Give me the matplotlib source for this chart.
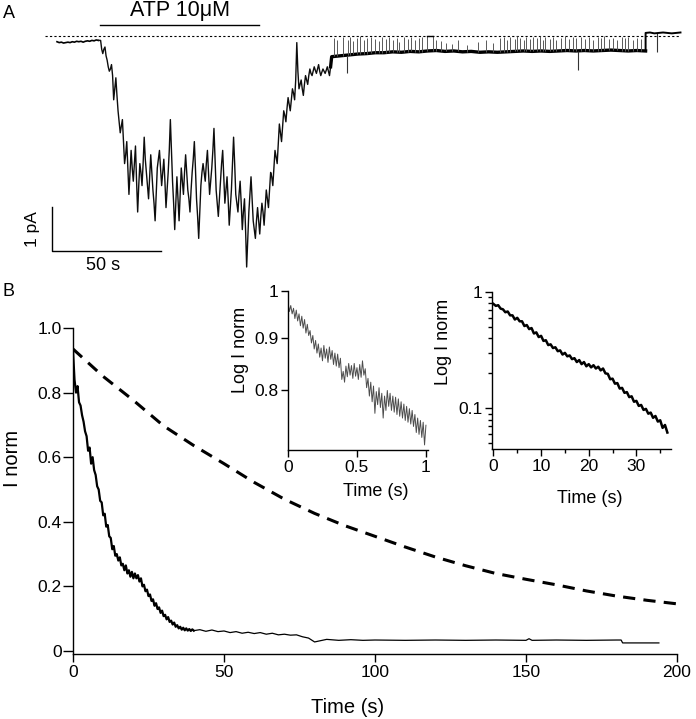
import matplotlib
matplotlib.use('Agg')
import matplotlib.pyplot as plt
from matplotlib.ticker import NullLocator, NullFormatter, LogLocator
import numpy as np

plt.rcParams['font.family'] = ['Liberation Sans', 'DejaVu Sans']

# ---------------- panel A : current trace (pA vs s) ----------------
pre_t = np.arange(0, 20)
pre_i = [-0.13, -0.15, -0.14, -0.16, -0.15, -0.14, -0.15, -0.13, -0.14, -0.12,
         -0.13, -0.12, -0.14, -0.12, -0.11, -0.12, -0.10, -0.11, -0.09, -0.10]

# samples on whole seconds (20 .. 125 s)
atp_t = np.arange(20, 126)
atp_i = [-0.10, -0.40, -0.25, -0.55, -0.80, -0.65, -1.45, -0.95, -1.70, -2.20,
         -1.90, -2.90, -2.40, -3.60, -2.60, -3.30, -2.50, -4.00, -2.90, -3.40,
         -2.30, -3.10, -3.70, -2.70, -3.50, -4.20, -3.00, -2.60, -3.40, -2.80,
         -3.90, -3.10, -1.90, -3.30, -4.40, -3.20, -4.20, -3.00, -3.60, -2.70,
         -3.50, -4.00, -3.10, -2.40, -3.70, -4.60, -3.40, -2.90, -3.30, -2.60,
         -3.60, -3.00, -2.10, -3.50, -4.10, -3.30, -2.60, -3.80, -3.20, -4.30,
         -3.50, -2.30, -3.60, -4.00, -3.30, -4.40, -3.70, -5.25, -4.00, -3.20,
         -4.20, -4.60, -3.90, -4.50, -3.80, -4.30, -3.50, -3.90, -3.10, -3.40,
         -2.60, -2.90, -2.00, -2.40, -1.70, -1.95, -1.40, -1.70, -1.20, -1.45,
         -0.15, -1.20, -1.00, -1.35, -0.90, -1.10, -0.75, -0.90, -0.70, -0.85,
         -0.65, -0.90, -0.75, -0.85, -0.70, -0.90]
# samples on the half seconds (20.5 .. 125.5 s)
atp_half_i = [-0.30, -0.30, -0.45, -0.70, -0.75, -0.90, -1.20, -1.35, -1.95, -2.05,
              -2.40, -2.70, -3.00, -3.10, -3.00, -2.90, -3.30, -3.40, -3.10, -2.90,
              -2.80, -3.40, -3.20, -3.10, -3.80, -3.60, -2.80, -3.00, -3.10, -3.30,
              -3.50, -2.60, -2.60, -3.80, -3.80, -3.70, -3.60, -3.30, -3.10, -3.10,
              -3.70, -3.50, -2.80, -3.00, -4.10, -4.00, -3.10, -3.10, -2.90, -3.10,
              -3.30, -2.60, -2.80, -3.80, -3.70, -2.90, -3.20, -3.50, -3.70, -3.90,
              -2.90, -2.90, -3.80, -3.60, -3.80, -4.00, -4.40, -4.60, -3.60, -3.70,
              -4.40, -4.20, -4.20, -4.10, -4.00, -3.90, -3.70, -3.50, -3.20, -3.00,
              -2.75, -2.45, -2.20, -2.05, -1.80, -1.65, -1.55, -1.45, -1.30, -1.00,
              -0.80, -1.10, -1.20, -1.10, -1.00, -0.90, -0.85, -0.80, -0.78, -0.75,
              -0.80, -0.82, -0.80, -0.78, -0.80, -0.70]

wash_t = np.arange(126, 271, 4)
wash_i = [-0.47, -0.45, -0.43, -0.41, -0.40, -0.38, -0.38, -0.36, -0.37, -0.35,
          -0.36, -0.34, -0.33, -0.35, -0.34, -0.36, -0.35, -0.37, -0.36, -0.37,
          -0.36, -0.35, -0.34, -0.35, -0.34, -0.35, -0.34, -0.33, -0.34, -0.33,
          -0.34, -0.33, -0.32, -0.33, -0.34, -0.33, -0.34]

end_t = np.arange(270, 287, 2)
end_i = [0.07, 0.08, 0.06, 0.07, 0.08, 0.07, 0.06, 0.07, 0.08]

closed_t = [169.7, 172.5]
closed_i = [0.0, 0.0]

spike_t = [127, 128.5, 131, 133.5, 134.5, 136, 137.5, 139, 141, 142,
           144, 146, 147.5, 149, 151, 152.5, 154, 156, 157, 159,
           161, 162.5, 164, 166, 167.5, 169.7, 172.5, 174, 176, 178.5,
           181, 184, 188, 193, 197, 200, 203, 205, 206.5, 208,
           210, 211, 212.5, 214, 215, 217, 218.5, 220, 221.5, 223,
           224, 226, 227.5, 229, 231, 233, 235, 236.5, 238, 240.5,
           242, 244, 246, 248, 249.5, 251, 253, 255, 257, 259,
           260.5, 262, 264, 266, 268]
spike_top = [-0.05, -0.10, -0.02, -0.08, -0.03, -0.12, -0.04, -0.01, -0.09, -0.05,
             -0.02, -0.07, -0.11, -0.03, -0.06, -0.02, -0.09, -0.04, -0.13, -0.03,
             -0.06, -0.02, -0.10, -0.05, -0.03, 0.00, 0.00, -0.08, -0.12, -0.15,
             -0.18, -0.10, -0.20, -0.14, -0.08, -0.16, -0.05, -0.03, -0.09, -0.02,
             -0.06, -0.01, -0.04, -0.10, -0.02, -0.07, -0.03, -0.05, -0.01, -0.08,
             -0.03, -0.06, -0.02, -0.09, -0.04, -0.01, -0.07, -0.03, -0.05, -0.02,
             -0.06, -0.03, -0.08, -0.02, -0.05, -0.01, -0.07, -0.04, -0.09, -0.03,
             -0.05, -0.02, -0.08, -0.04, -0.06]

dip_t = [133, 239, 275.2]
dip_from = [-0.45, -0.34, 0.07]
dip_to = [-0.84, -0.77, -0.36]

atp_on, atp_off = 19.7, 92.7
bar_pA, bar_s = 1.0, 50

# ---------------- panel B : normalised current ----------------
fit_t = np.arange(0, 201, 10)
fit_i = [0.935, 0.850, 0.776, 0.697, 0.636, 0.580, 0.522, 0.470, 0.426, 0.388,
         0.355, 0.322, 0.291, 0.264, 0.240, 0.222, 0.205, 0.186, 0.170, 0.157, 0.146]

decay_t = np.arange(0, 40.01, 0.5)
decay_i = [0.93, 0.84, 0.80, 0.82, 0.77, 0.76, 0.73, 0.71, 0.68, 0.665,
           0.62, 0.63, 0.58, 0.60, 0.56, 0.545, 0.51, 0.50, 0.465, 0.46,
           0.42, 0.425, 0.385, 0.39, 0.355, 0.35, 0.315, 0.325, 0.295, 0.30,
           0.28, 0.29, 0.265, 0.27, 0.25, 0.265, 0.24, 0.25, 0.23, 0.245,
           0.225, 0.24, 0.225, 0.235, 0.215, 0.225, 0.20, 0.205, 0.185, 0.19,
           0.17, 0.175, 0.155, 0.16, 0.14, 0.148, 0.13, 0.135, 0.118, 0.125,
           0.108, 0.112, 0.098, 0.105, 0.09, 0.094, 0.082, 0.088, 0.075, 0.08,
           0.07, 0.075, 0.066, 0.072, 0.064, 0.07, 0.063, 0.068, 0.062, 0.067, 0.063]

late_t = [42, 44, 46, 48, 50, 52, 54, 56, 58, 60, 62, 64, 66, 68, 70, 72, 74, 76, 78, 80,
          82, 84, 88, 92, 96, 100, 110, 120, 130, 140, 150, 151, 152, 160, 170, 180,
          181.5, 182, 190, 194]
late_i = [0.066, 0.061, 0.065, 0.060, 0.062, 0.057, 0.060, 0.055, 0.058, 0.054,
          0.057, 0.052, 0.055, 0.050, 0.052, 0.049, 0.050, 0.044, 0.040, 0.028,
          0.032, 0.036, 0.033, 0.035, 0.033, 0.034, 0.033, 0.034, 0.033, 0.034,
          0.033, 0.038, 0.033, 0.034, 0.033, 0.034, 0.034, 0.025, 0.025, 0.025]

# inset 1 (first second, log axis)
ins1_t = np.arange(0, 1.001, 0.01)
ins1_i = [0.975, 0.955, 0.968, 0.950, 0.962, 0.940, 0.958, 0.935, 0.950, 0.925,
          0.945, 0.920, 0.938, 0.910, 0.928, 0.905, 0.915, 0.890, 0.905, 0.878,
          0.895, 0.870, 0.888, 0.862, 0.880, 0.855, 0.885, 0.860, 0.878, 0.852,
          0.882, 0.858, 0.875, 0.848, 0.870, 0.845, 0.868, 0.842, 0.860, 0.820,
          0.835, 0.815, 0.845, 0.825, 0.850, 0.828, 0.846, 0.822, 0.850, 0.826,
          0.842, 0.820, 0.848, 0.824, 0.855, 0.828, 0.840, 0.805, 0.822, 0.790,
          0.815, 0.780, 0.808, 0.760, 0.798, 0.775, 0.805, 0.770, 0.795, 0.752,
          0.790, 0.765, 0.800, 0.772, 0.795, 0.765, 0.790, 0.762, 0.788, 0.758,
          0.785, 0.755, 0.780, 0.752, 0.776, 0.748, 0.772, 0.745, 0.768, 0.742,
          0.765, 0.738, 0.758, 0.728, 0.752, 0.725, 0.748, 0.720, 0.745, 0.708, 0.740]

# inset 2 (first 36 s, log axis)
ins2_t = np.arange(0, 36.51, 0.5)
ins2_i = [0.79, 0.76, 0.77, 0.72, 0.71, 0.67, 0.68, 0.63, 0.63, 0.58,
          0.60, 0.56, 0.56, 0.51, 0.52, 0.48, 0.49, 0.44, 0.45, 0.41,
          0.42, 0.38, 0.385, 0.35, 0.355, 0.33, 0.335, 0.31, 0.315, 0.29,
          0.30, 0.28, 0.285, 0.265, 0.27, 0.25, 0.26, 0.24, 0.25, 0.23,
          0.24, 0.225, 0.235, 0.22, 0.228, 0.212, 0.22, 0.20, 0.198, 0.178,
          0.18, 0.163, 0.165, 0.148, 0.15, 0.136, 0.138, 0.125, 0.127, 0.114,
          0.116, 0.105, 0.107, 0.097, 0.099, 0.090, 0.092, 0.083, 0.086, 0.077,
          0.079, 0.068, 0.072, 0.062]

W, H = 696, 719
fig = plt.figure(figsize=(W / 100, H / 100), dpi=100)


def box(x0, y0, x1, y1):
    # pixel box (top-left origin) -> figure fraction rect
    return [x0 / W, 1 - y1 / H, (x1 - x0) / W, (y1 - y0) / H]


# ---------- A ----------
axA = fig.add_axes(box(40, 10, 690, 275))
axA.axis('off')
axA.set_xlim(-7.80, 290.37)
axA.set_ylim(-5.432, 0.591)
axA.axhline(0, xmin=0.0077, xmax=0.985, color='k', lw=0.8, ls=(0, (2, 2)))
axA.plot(pre_t, pre_i, color='k', lw=1.2)

# interleave whole-second and half-second samples
noisy_t = np.column_stack([atp_t, atp_t + 0.5]).ravel()
noisy_i = np.column_stack([atp_i, atp_half_i]).ravel()
axA.plot(np.r_[pre_t[-1], noisy_t], np.r_[pre_i[-1], noisy_i], color='0.05', lw=1.0)
axA.plot(np.r_[noisy_t[-1], wash_t], np.r_[noisy_i[-1], wash_i], color='k', lw=2.4)
axA.vlines(spike_t, np.interp(spike_t, wash_t, wash_i), spike_top, color='0.35', lw=0.7)
axA.plot(closed_t, closed_i, color='k', lw=1.0)
axA.vlines(dip_t, dip_from, dip_to, color='0.2', lw=0.8)
axA.plot(np.r_[wash_t[-1], end_t], np.r_[wash_i[-1], end_i], color='k', lw=1.4)
axA.plot([atp_on, atp_off], [0.25, 0.25], color='k', lw=1.0)
axA.text((atp_on + atp_off) / 2, 0.57, 'ATP 10\u03bcM', ha='center', va='center', fontsize=15.5)
sx, sy = -2.3, -4.886
axA.plot([sx, sx, sx + bar_s], [sy + bar_pA, sy, sy], color='k', lw=1.0, clip_on=False)
axA.text(sx - 8.9, sy + bar_pA / 2, '1 pA', rotation=90, ha='center', va='center', fontsize=12.5)
axA.text(sx + 23.3, sy - 0.33, '50 s', ha='center', va='center', fontsize=13)
fig.text(3 / W, 1 - 13 / H, 'A', ha='left', va='center', fontsize=13)
fig.text(3 / W, 1 - 291 / H, 'B', ha='left', va='center', fontsize=13)

# ---------- B main ----------
axB = fig.add_axes(box(73, 328, 677, 654))
axB.plot(fit_t, fit_i, color='k', lw=2.2, dashes=(4, 2.7))
axB.plot(decay_t, decay_i, color='k', lw=1.6)
axB.plot(np.r_[decay_t[-1], late_t], np.r_[decay_i[-1], late_i], color='k', lw=0.9)
axB.set_xlim(0, 200)
axB.set_ylim(-0.0093, 1.0)
axB.set_xticks([0, 50, 100, 150, 200], ['0', '50', '100', '150', '200'])
axB.set_yticks([0, 0.2, 0.4, 0.6, 0.8, 1.0], ['0', '0.2', '0.4', '0.6', '0.8', '1.0'])
axB.tick_params(axis='x', length=6, width=1, pad=2, labelsize=12.5)
axB.tick_params(axis='y', length=7, width=1, pad=1, labelsize=12.5)
axB.set_xlabel('Time (s)', fontsize=14.5)
axB.set_ylabel('I norm', fontsize=14.5)
axB.xaxis.set_label_coords(0.454, -0.135)
axB.yaxis.set_label_coords(-0.084, 0.60)

# ---------- inset 1 ----------
ax1 = fig.add_axes(box(288, 291, 428, 450))
ax1.plot(ins1_t, ins1_i, color='0.3', lw=0.7)
ax1.set_yscale('log')
ax1.set_xlim(0, 1.015)
ax1.set_ylim(0.70, 1.0)
ax1.set_yticks([0.8, 0.9, 1.0], ['0.8', '0.9', '1'])
ax1.yaxis.set_minor_locator(NullLocator())
ax1.yaxis.set_minor_formatter(NullFormatter())
ax1.set_xticks([0, 0.5, 1], ['0', '0.5', '1'])
ax1.set_xlabel('Time (s)', fontsize=13)
ax1.set_ylabel('Log I norm', fontsize=13)
ax1.xaxis.set_label_coords(0.629, -0.207)
ax1.yaxis.set_label_coords(-0.28, 0.63)

# ---------- inset 2 ----------
ax2 = fig.add_axes(box(492, 292, 670.7, 449.3))
ax2.plot(ins2_t, ins2_i, color='k', lw=1.8)
ax2.set_yscale('log')
ax2.set_xlim(-0.3, 37.2)
ax2.set_ylim(0.0445, 1.0)
ax2.set_yticks([0.1, 1.0], ['0.1', '1'])
ax2.yaxis.set_minor_locator(LogLocator(base=10, subs=np.arange(2, 10)))
ax2.yaxis.set_minor_formatter(NullFormatter())
ax2.set_xticks([0, 10, 20, 30], ['0', '10', '20', '30'])
ax2.set_xticks([5, 15, 25, 35], minor=True)
ax2.set_xlabel('Time (s)', fontsize=13)
ax2.set_ylabel('Log I norm', fontsize=13)
ax2.xaxis.set_label_coords(0.546, -0.258)
ax2.yaxis.set_label_coords(-0.225, 0.68)

for ax in (axB, ax1, ax2):
    ax.spines['top'].set_visible(False)
    ax.spines['right'].set_visible(False)
    ax.spines['left'].set_linewidth(1.0)
    ax.spines['bottom'].set_linewidth(1.0)
for ax in (ax1, ax2):
    ax.tick_params(which='major', length=5, width=1, pad=2, labelsize=12.5)
    ax.tick_params(which='minor', length=3, width=1)

fig.savefig('out.png', dpi=100)
